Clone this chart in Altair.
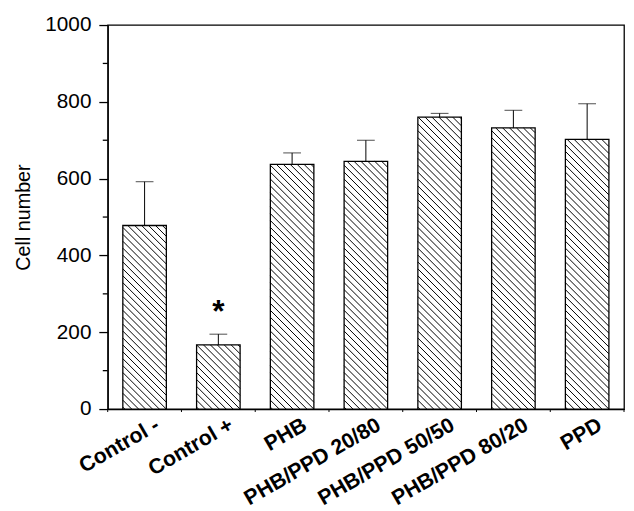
import altair as alt
import pandas as pd

categories = ["Control -", "Control +", "PHB", "PHB/PPD 20/80", "PHB/PPD 50/50", "PHB/PPD 80/20", "PPD"]
means = [478, 167, 637, 645, 760, 732, 702]
err_tops = [592, 195, 667, 700, 770, 778, 795]
marks = ["", "*", "", "", "", "", ""]
major_ticks = [0, 200, 400, 600, 800, 1000]
minor_ticks = [100, 300, 500, 700, 900]

W, H = 523, 389
YMAX = 1000
n = len(categories)
step = W / n
pin = 0.41
bw = step * (1 - pin)
hatch_px = 7.0
FONT = "Liberation Sans"

df = pd.DataFrame({"cat": categories, "mean": means, "err": err_tops, "mark": marks})

# hatch segments derived from bar values (clipped to each bar)
rows = []
for i, v in enumerate(means):
    px0 = (i + 0.5) * step - bw / 2
    px1 = px0 + bw
    h = v / YMAX * H
    c = px0 + 2.0
    while c < px1 + h:
        s = max(px0, c - h)
        e = min(px1, c)
        if s < e:
            rows.append({"x": s / step, "y": (c - s) / H * YMAX,
                         "x2": e / step, "y2": (c - e) / H * YMAX})
        c += hatch_px
hatch = pd.DataFrame(rows)
bounds = pd.DataFrame({"b": list(range(n + 1))})
minor = pd.DataFrame({"v": minor_ticks})

yscale = alt.Scale(domain=[0, YMAX], nice=False)
xband = alt.Scale(domain=categories, paddingInner=pin, paddingOuter=pin / 2)
xq = alt.Scale(domain=[0, n], nice=False, zero=False)

yaxis = alt.Axis(
    values=major_ticks,
    labelExpr="'' + datum.value",
    tickSize=9,
    labelFont=FONT, labelFontSize=21, labelColor="black", labelPadding=8,
    title="Cell number", titleFont=FONT, titleFontSize=20, titleFontWeight="normal",
    titleColor="black", titlePadding=12,
    grid=False, domainColor="black", tickColor="black", domainWidth=1.3, tickWidth=1.3,
)
xaxis = alt.Axis(
    title=None, labelAngle=-30, labelAlign="right", labelBaseline="top",
    labelFont=FONT, labelFontSize=21.5, labelFontWeight="bold", labelColor="black",
    labelPadding=5, labelOffset=8, tickSize=0, domainColor="black", domainWidth=1.3, labelLimit=0,
)

X = alt.X("cat:N", scale=xband, sort=categories, axis=xaxis)

bars = alt.Chart(df).mark_bar(fill="white", stroke="black", strokeWidth=1.3).encode(
    x=X,
    y=alt.Y("mean:Q", scale=yscale, axis=yaxis),
)
errs = alt.Chart(df).mark_rule(color="black", strokeWidth=1).encode(
    x=X,
    y=alt.Y("mean:Q", scale=yscale, axis=yaxis),
    y2="err:Q",
)
caps = alt.Chart(df).mark_tick(color="black", size=18, thickness=1).encode(
    x=X,
    y=alt.Y("err:Q", scale=yscale, axis=yaxis),
)
star = alt.Chart(df).mark_text(font=FONT, fontSize=32, fontWeight="bold", baseline="alphabetic", dy=-12, color="black").encode(
    x=X,
    y=alt.Y("err:Q", scale=yscale, axis=yaxis),
    text="mark:N",
)
band_layer = alt.layer(bars, errs, caps, star)

hatch_layer = alt.Chart(hatch).mark_rule(color="black", strokeWidth=1).encode(
    x=alt.X("x:Q", scale=xq, axis=None),
    x2="x2:Q",
    y=alt.Y("y:Q", scale=yscale, axis=yaxis),
    y2="y2:Q",
)
ticks_layer = alt.Chart(bounds).mark_rule(color="black", strokeWidth=1).encode(
    x=alt.X("b:Q", scale=xq, axis=None),
    y=alt.value(H),
    y2=alt.value(H + 3),
)
minor_layer = alt.Chart(minor).mark_rule(color="black", strokeWidth=1.3).encode(
    x=alt.value(-5),
    x2=alt.value(0),
    y=alt.Y("v:Q", scale=yscale, axis=yaxis),
)

chart = alt.layer(band_layer, hatch_layer, ticks_layer, minor_layer).resolve_scale(x="independent").properties(
    width=W, height=H,
    padding={"left": 101, "top": 14, "right": 2, "bottom": 100},
    autosize="none",
    background="white",
).configure_view(stroke="black", strokeWidth=1.3)

chart.save("out.html", embed_options={"renderer": "svg", "actions": False})
